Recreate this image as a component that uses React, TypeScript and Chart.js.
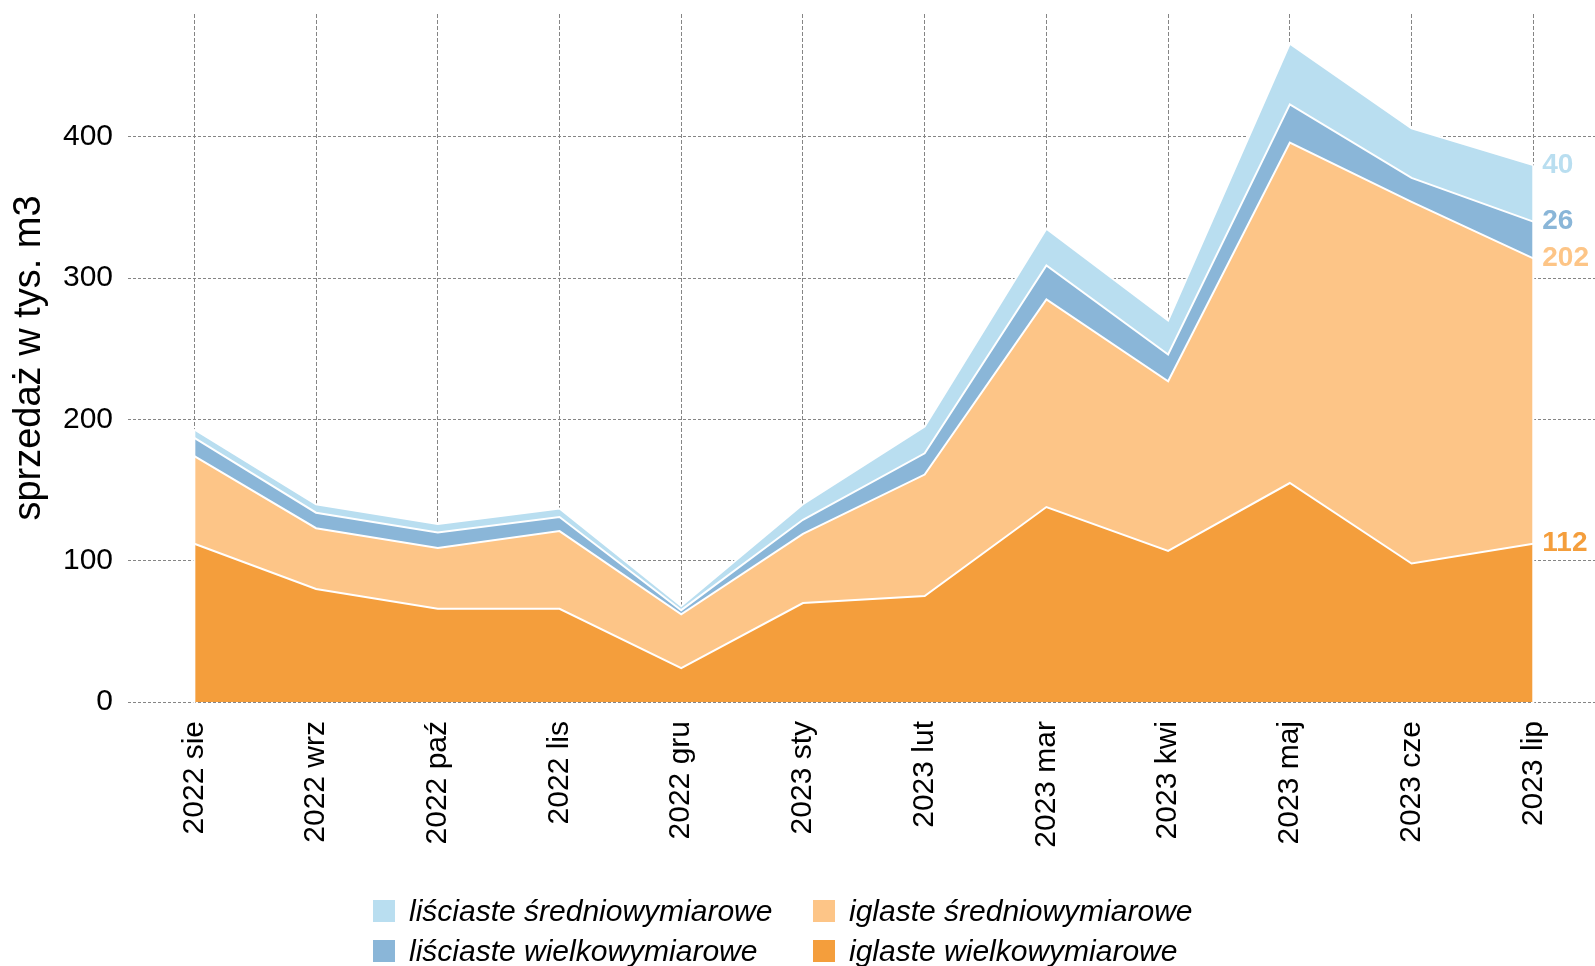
import React, { useEffect, useRef } from "react";
import { Chart, registerables } from "chart.js";

Chart.register(...registerables);

const months = [
  "2022 sie", "2022 wrz", "2022 paź", "2022 lis", "2022 gru", "2023 sty",
  "2023 lut", "2023 mar", "2023 kwi", "2023 maj", "2023 cze", "2023 lip",
];
const iglasteWielko = [112, 80, 66, 66, 24, 70, 75, 138, 107, 155, 98, 112];
const iglasteSrednio = [62, 43, 43, 55, 38, 49, 86, 147, 120, 241, 256, 202];
const lisciasteWielko = [13, 11, 11, 10, 3, 10, 15, 24, 19, 27, 17, 26];
const lisciasteSrednio = [6, 6, 6, 6, 3, 11, 19, 26, 24, 43, 35, 40];
const yTickValues = [0, 100, 200, 300, 400];

const C_LS = "#B9DEF0";
const C_LW = "#8AB6D8";
const C_IS = "#FDC587";
const C_IW = "#F49E3C";
const FONT = '"Liberation Sans", Arial, Helvetica, sans-serif';
const GRID = "#858585";

const toPoints = (arr: number[]) => arr.map((v, i) => ({ x: i, y: v }));

const endLabels = {
  id: "endLabels",
  afterDatasetsDraw(chart: any) {
    const ctx = chart.ctx;
    const n = chart.data.datasets.length;
    const topMeta = chart.getDatasetMeta(n - 1);
    const bottom = chart.chartArea.bottom;
    ctx.save();
    // white outline on the vertical edges of the stacked area
    ctx.strokeStyle = "#ffffff";
    ctx.lineWidth = 2;
    [topMeta.data[0], topMeta.data[topMeta.data.length - 1]].forEach((pt: any) => {
      ctx.beginPath();
      ctx.moveTo(pt.x, pt.y);
      ctx.lineTo(pt.x, bottom + 1);
      ctx.stroke();
    });
    ctx.font = `bold 28px ${FONT}`;
    ctx.textBaseline = "middle";
    ctx.textAlign = "left";
    chart.data.datasets.forEach((ds: any, i: number) => {
      const meta = chart.getDatasetMeta(i);
      const pt = meta.data[meta.data.length - 1];
      const v = ds.data[ds.data.length - 1].y;
      ctx.fillStyle = ds.labelColor;
      ctx.fillText(String(v), pt.x + 9, pt.y);
    });
    ctx.restore();
  },
};

const legendItems = [
  { label: "liściaste średniowymiarowe", color: C_LS, left: 373, top: 900 },
  { label: "liściaste wielkowymiarowe", color: C_LW, left: 373, top: 940 },
  { label: "iglaste średniowymiarowe", color: C_IS, left: 813, top: 900 },
  { label: "iglaste wielkowymiarowe", color: C_IW, left: 813, top: 940 },
];

export default function App() {
  const ref = useRef<HTMLCanvasElement | null>(null);

  useEffect(() => {
    if (!ref.current) return;
    const mk = (label: string, data: number[], color: string, fill: any) => ({
      label,
      data: toPoints(data),
      backgroundColor: color,
      borderColor: "#ffffff",
      borderWidth: 2,
      pointRadius: 0,
      pointHoverRadius: 0,
      tension: 0,
      fill,
      labelColor: color,
    });
    const chart = new Chart(ref.current, {
      type: "line",
      data: {
        datasets: [
          mk("iglaste wielkowymiarowe", iglasteWielko, C_IW, "origin"),
          mk("iglaste średniowymiarowe", iglasteSrednio, C_IS, "-1"),
          mk("liściaste wielkowymiarowe", lisciasteWielko, C_LW, "-1"),
          mk("liściaste średniowymiarowe", lisciasteSrednio, C_LS, "-1"),
        ] as any,
      },
      options: {
        animation: false,
        responsive: false,
        devicePixelRatio: 1,
        layout: { padding: { top: 14, left: 0, right: 0, bottom: 0 } },
        plugins: {
          legend: { display: false },
          tooltip: { enabled: false },
        },
        scales: {
          x: {
            type: "linear",
            min: -0.545,
            max: 11.507,
            afterBuildTicks: (s: any) => {
              s.ticks = months.map((_, i) => ({ value: i }));
            },
            afterFit: (s: any) => {
              s.height = 264;
              s.paddingLeft = 0;
              s.paddingRight = 0;
            },
            ticks: {
              autoSkip: false,
              minRotation: 90,
              maxRotation: 90,
              padding: 19,
              color: "#000",
              font: { family: FONT, size: 30 },
              callback: (v: any) => months[Math.round(Number(v))],
            },
            grid: { color: GRID, lineWidth: 1, drawTicks: false, tickLength: 0 },
            border: { display: false, dash: [4, 2] },
          },
          y: {
            stacked: true,
            min: 0,
            max: 487,
            afterBuildTicks: (s: any) => {
              s.ticks = yTickValues.map((v) => ({ value: v }));
            },
            afterFit: (s: any) => {
              s.width = 128;
              s.paddingTop = 0;
              s.paddingBottom = 0;
            },
            ticks: {
              padding: 15,
              color: "#000",
              font: { family: FONT, size: 30 },
            },
            grid: { color: GRID, lineWidth: 1, drawTicks: false, tickLength: 0 },
            border: { display: false, dash: [3, 2] },
            title: {
              display: true,
              text: "sprzedaż w tys. m3",
              color: "#000",
              font: { family: FONT, size: 38 },
              padding: { top: 7, bottom: 0 },
            },
          },
        },
      } as any,
      plugins: [endLabels],
    });
    return () => chart.destroy();
  }, []);

  return (
    <div
      style={{
        position: "absolute",
        left: 0,
        top: 0,
        width: 1595,
        height: 966,
        background: "#fff",
        overflow: "hidden",
      }}
    >
      <canvas ref={ref} width={1595} height={966} style={{ width: 1595, height: 966, display: "block" }} />
      {legendItems.map((it) => (
        <div
          key={it.label}
          style={{
            position: "absolute",
            left: it.left,
            top: it.top,
            height: 22,
            display: "flex",
            alignItems: "center",
            whiteSpace: "nowrap",
          }}
        >
          <div style={{ width: 22, height: 22, background: it.color, marginRight: 14 }} />
          <span
            style={{
              fontFamily: FONT,
              fontStyle: "italic",
              fontSize: 30,
              color: "#000",
              lineHeight: "22px",
            }}
          >
            {it.label}
          </span>
        </div>
      ))}
    </div>
  );
}
